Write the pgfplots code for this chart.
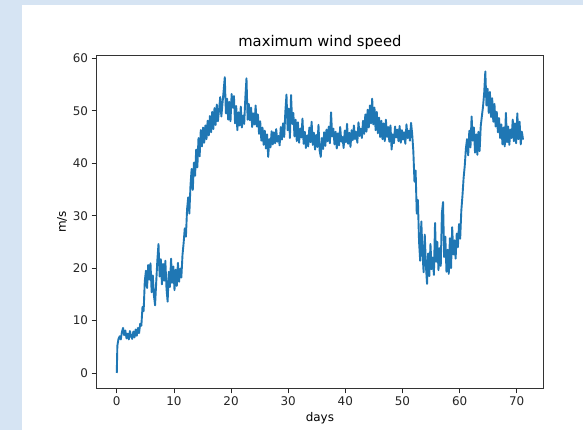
\documentclass[border=0pt]{standalone}
\usepackage{pgfplots}
\pgfplotsset{compat=1.18}
\usepackage{fontspec}
\setmainfont{DejaVu Sans}
\definecolor{mplblue}{RGB}{31,119,180}
\definecolor{bgblue}{RGB}{214,228,243}
\begin{document}
\begin{tikzpicture}[x=1bp,y=1bp]
\useasboundingbox (0,0) rectangle (583,430);
\fill[bgblue] (0,0) rectangle (583,430);
\fill[white] (22,0) rectangle (583,425);
\begin{axis}[
  at={(96.5bp,41.7bp)}, anchor=south west,
  scale only axis, width=446.8bp, height=332.6bp,
  xmin=-3.55, xmax=74.65, ymin=-2.92, ymax=60.5,
  xtick={0,10,20,30,40,50,60,70},
  ytick={0,10,20,30,40,50,60},
  xtick pos=bottom, ytick pos=left,
  tick align=outside, major tick length=5bp,
  tick style={black!85, line width=0.8bp},
  axis line style={black!80, line width=0.9bp},
  ticklabel style={font=\fontsize{12}{14}\selectfont, text=black!85},
  /pgf/number format/assume math mode=true,
  title={maximum wind speed},
  title style={font=\fontsize{14.8}{17}\selectfont, at={(axis description cs:0.5,1.022)}, anchor=center},
  xlabel={days},
  xlabel style={font=\fontsize{12}{14}\selectfont, at={(axis description cs:0.5,-0.089)}, anchor=center},
  ylabel={m/s},
  ylabel style={font=\fontsize{12}{14}\selectfont, at={(axis description cs:-0.077,0.5)}, anchor=center},
  clip=true,
]
\addplot[mplblue, line width=1.9bp, line join=round] coordinates {
(0,0) (0.1,5.2) (0.3,6.5) (0.5,7.0) (0.7,6.4) (0.9,7.8) (1.1,8.6) (1.3,7.2) (1.5,8.1) (1.7,6.6)
(1.9,7.5) (2.1,6.4) (2.3,8.0) (2.5,7.0) (2.7,6.5) (2.9,7.9) (3.1,6.8) (3.3,8.3) (3.5,7.1) (3.7,8.6)
(3.9,7.6) (4.1,9.4) (4.3,9.0) (4.5,12.6) (4.7,11.8) (4.9,17.5)
(5.1,19.5) (5.3,16.2) (5.5,20.6) (5.7,17.8) (5.9,20.9) (6.1,15.4) (6.3,18.6) (6.5,14.8) (6.7,12.9) (6.9,17.3)
(7.1,21.5) (7.3,24.6) (7.5,18.4) (7.7,21.7) (7.9,16.9) (8.1,20.8) (8.3,17.6) (8.5,21.4) (8.7,16.1) (8.9,13.6)
(9.1,19.3) (9.3,16.4) (9.5,21.8) (9.7,17.2) (9.9,20.3) (10.1,15.8) (10.3,19.7) (10.5,16.6) (10.7,21.0) (10.9,17.4)
(11.1,19.9) (11.3,18.2)
(11.5,22.5) (11.7,24.8) (11.9,27.6) (12.1,26.0) (12.3,31.2) (12.5,33.5) (12.7,30.4) (12.9,35.8) (13.1,38.9) (13.3,34.9)
(13.5,40.1) (13.7,37.6) (13.9,42.6) (14.1,39.2) (14.3,44.8) (14.5,41.3) (14.7,46.3) (14.9,43.2) (15.1,46.8) (15.3,43.9)
(15.5,47.2) (15.7,44.6) (15.9,48.1) (16.1,45.3) (16.3,49.0) (16.5,45.9) (16.7,49.8) (16.9,46.5) (17.1,50.5) (17.3,47.3)
(17.5,51.2) (17.7,48.0) (17.9,50.2) (18.1,52.6) (18.3,48.9) (18.5,51.4) (18.7,53.8) (18.9,56.4) (19.1,49.5) (19.3,52.3)
(19.5,48.3) (19.7,51.7) (19.9,48.0) (20.1,53.2) (20.3,50.6) (20.5,52.8) (20.7,47.6) (20.9,50.9) (21.1,46.3) (21.3,49.7)
(21.5,47.2) (21.7,50.8) (21.9,46.8) (22.1,49.1) (22.3,47.5) (22.5,52.5) (22.7,56.2) (22.9,48.3) (23.1,51.3) (23.3,48.2)
(23.5,50.6) (23.7,46.9) (23.9,49.5) (24.1,47.4) (24.3,51.0) (24.5,47.0) (24.7,49.3) (24.9,45.6) (25.1,48.0) (25.3,44.3)
(25.5,46.8) (25.7,43.5) (25.9,46.2) (26.1,42.8) (26.3,45.5) (26.5,41.2) (26.7,44.6) (26.9,43.0) (27.1,46.1) (27.3,43.6)
(27.5,45.9) (27.7,43.8) (27.9,46.5) (28.1,44.1) (28.3,45.2) (28.5,43.4) (28.7,46.9) (28.9,44.5) (29.1,47.6) (29.3,45.0)
(29.5,49.8) (29.7,53.1) (29.9,46.3) (30.1,50.4) (30.3,44.8) (30.5,53.0) (30.7,47.5) (30.9,49.6) (31.1,45.1) (31.3,48.3)
(31.5,44.2) (31.7,47.8) (31.9,43.9) (32.1,46.6) (32.3,44.9) (32.5,48.5) (32.7,43.7) (32.9,46.0) (33.1,42.9) (33.3,45.3)
(33.5,43.2) (33.7,46.8) (33.9,44.0) (34.1,47.9) (34.3,43.5) (34.5,45.8) (34.7,42.6) (34.9,45.4) (35.1,43.1) (35.3,47.3)
(35.5,42.4) (35.7,41.2) (35.9,44.8) (36.1,42.7) (36.3,45.9) (36.5,43.3) (36.7,46.4) (36.9,44.2) (37.1,47.0) (37.3,43.8)
(37.5,49.7) (37.7,45.1) (37.9,46.6) (38.1,43.6) (38.3,46.0) (38.5,42.8) (38.7,45.7) (38.9,43.4) (39.1,46.9) (39.3,44.1)
(39.5,45.0) (39.7,42.9) (39.9,46.2) (40.1,44.0) (40.3,47.5) (40.5,43.7) (40.7,45.8) (40.9,43.1) (41.1,46.3) (41.3,44.4)
(41.5,47.2) (41.7,44.6) (41.9,46.0) (42.1,43.9) (42.3,47.8) (42.5,45.2) (42.7,46.6) (42.9,44.8) (43.1,48.1) (43.3,45.6)
(43.5,49.3) (43.7,46.0) (43.9,50.2) (44.1,46.8) (44.3,51.0) (44.5,47.6) (44.7,52.3) (44.9,47.4) (45.1,50.6) (45.3,46.3)
(45.5,49.8) (45.7,45.7) (45.9,48.7) (46.1,45.0) (46.3,48.1) (46.5,44.6) (46.7,47.6) (46.9,44.2) (47.1,48.3) (47.3,45.0)
(47.5,46.9) (47.7,44.1) (47.9,47.2) (48.1,42.6) (48.3,45.5) (48.5,43.8) (48.7,47.0) (48.9,44.9) (49.1,46.4) (49.3,44.2)
(49.5,47.1) (49.7,43.9) (49.9,46.3) (50.1,44.5) (50.3,45.9) (50.5,43.7) (50.7,47.4) (50.9,44.8) (51.1,46.2) (51.3,44.3)
(51.5,47.7) (51.7,45.6) (51.9,42.3) (52.1,36.5) (52.3,38.6) (52.5,30.4) (52.7,33.0) (52.9,25.1) (53.1,21.4) (53.3,28.9)
(53.5,23.0) (53.7,19.2) (53.9,26.4) (54.1,20.5) (54.3,17.0) (54.5,22.8) (54.7,18.5) (54.9,24.6) (55.1,19.8) (55.3,22.0)
(55.5,18.7) (55.7,28.6) (55.9,21.2) (56.1,25.0) (56.3,19.6) (56.5,23.8) (56.7,20.4) (56.9,30.5) (57.1,32.6) (57.3,22.1)
(57.5,26.0) (57.7,19.3) (57.9,23.5) (58.1,18.9) (58.3,25.7) (58.5,20.0) (58.7,27.8) (58.9,22.6) (59.1,25.3) (59.3,21.8)
(59.5,26.6) (59.7,24.0) (59.9,28.4) (60.1,25.6) (60.3,31.0) (60.5,33.8) (60.7,37.2) (60.9,39.5) (61.1,42.8) (61.3,44.6)
(61.5,41.5) (61.7,46.2) (61.9,43.0) (62.1,48.9) (62.3,44.3) (62.5,46.8) (62.7,42.0) (62.9,45.5) (63.1,41.6) (63.3,46.0)
(63.5,42.3) (63.7,47.1) (63.9,49.0) (64.1,50.8) (64.3,53.4) (64.5,57.5) (64.7,51.0) (64.9,54.2) (65.1,49.6) (65.3,53.6)
(65.5,48.8) (65.7,52.4) (65.9,47.9) (66.1,51.3) (66.3,47.0) (66.5,49.8) (66.7,45.9) (66.9,48.6) (67.1,44.8) (67.3,47.4)
(67.5,43.6) (67.7,46.8) (67.9,43.2) (68.1,49.6) (68.3,44.0) (68.5,47.0) (68.7,43.5) (68.9,46.4) (69.1,44.8) (69.3,48.3)
(69.5,44.2) (69.7,47.6) (69.9,43.8) (70.1,49.5) (70.3,44.6) (70.5,47.9) (70.7,43.6) (70.9,46.0) (71.1,44.5)
};
\end{axis}
\end{tikzpicture}
\end{document}
